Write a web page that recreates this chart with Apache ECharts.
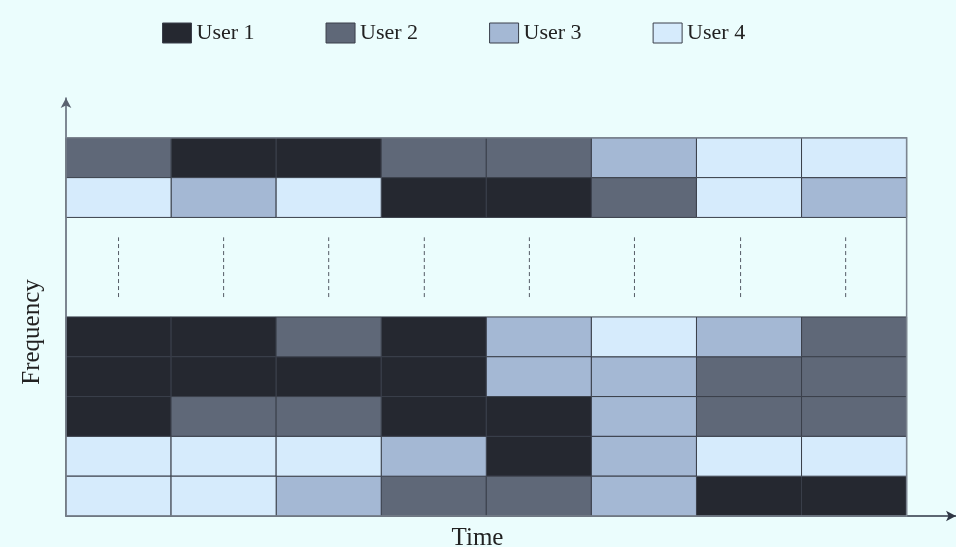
<!DOCTYPE html>
<html>
<head>
<meta charset="utf-8">
<script src="https://cdn.jsdelivr.net/npm/echarts@6/dist/echarts.min.js"></script>
<style>
html,body{margin:0;padding:0;background:#ebfdfd;overflow:hidden;}
#chart{width:956px;height:547px;}
</style>
</head>
<body>
<div id="chart"></div>
<script>
// Users and colors
var users = ['User 1', 'User 2', 'User 3', 'User 4'];
var userColors = ['#252830', '#5f6878', '#a4b8d4', '#d6ebfc'];

// Time slots (columns)
var timeSlots = [0, 1, 2, 3, 4, 5, 6, 7];

// Resource grid: user index (0-based) per time slot, rows from top to bottom
var topRow1 = [1, 0, 0, 1, 1, 2, 3, 3];
var topRow2 = [3, 2, 3, 0, 0, 1, 3, 2];
var lowRow1 = [0, 0, 1, 0, 2, 3, 2, 1];
var lowRow2 = [0, 0, 0, 0, 2, 2, 1, 1];
var lowRow3 = [0, 1, 1, 0, 0, 2, 1, 1];
var lowRow4 = [3, 3, 3, 2, 0, 2, 3, 3];
var lowRow5 = [3, 3, 2, 1, 1, 2, 0, 0];

// Frequency position (bottom edge, in row units) of each row
var rowsList = [topRow1, topRow2, lowRow1, lowRow2, lowRow3, lowRow4, lowRow5];
var rowBases = [8.5, 7.5, 4, 3, 2, 1, 0];

// Dashed markers in the gap between row groups
var dashX = [0.5, 1.5, 2.5, 3.41, 4.41, 5.41, 6.42, 7.42];
var dashRange = [5.5, 7.0];

var FONT = "'Liberation Serif', 'Times New Roman', serif";

var userData = users.map(function () { return []; });
rowsList.forEach(function (row, ri) {
  row.forEach(function (u, ci) {
    userData[u].push([timeSlots[ci], rowBases[ri]]);
  });
});

function cellRender(params, api) {
  var x = api.value(0), y = api.value(1);
  var p1 = api.coord([x, y + 1]);
  var p2 = api.coord([x + 1, y]);
  return {
    type: 'rect',
    shape: { x: p1[0], y: p1[1], width: p2[0] - p1[0], height: p2[1] - p1[1] },
    style: { fill: api.visual('color'), stroke: '#3a3f4a', lineWidth: 1 }
  };
}

var series = users.map(function (name, i) {
  return {
    name: name,
    type: 'custom',
    renderItem: cellRender,
    data: userData[i],
    itemStyle: { color: userColors[i] },
    encode: { x: 0, y: 1 },
    z: 2
  };
});

// outer frame
series.push({
  name: 'frame',
  type: 'custom',
  data: [[0, 0, 8, 9.5]],
  encode: { x: [0, 2], y: [1, 3] },
  z: 3,
  silent: true,
  renderItem: function (params, api) {
    var a = api.coord([api.value(0), api.value(3)]);
    var b = api.coord([api.value(2), api.value(1)]);
    return {
      type: 'rect',
      shape: { x: a[0], y: a[1], width: b[0] - a[0], height: b[1] - a[1] },
      style: { fill: null, stroke: '#7c8590', lineWidth: 1.5 }
    };
  }
});

// dashed markers
series.push({
  name: 'dots',
  type: 'custom',
  data: dashX.map(function (x) { return [x, dashRange[0], dashRange[1]]; }),
  encode: { x: 0, y: [1, 2] },
  z: 3,
  silent: true,
  renderItem: function (params, api) {
    var a = api.coord([api.value(0), api.value(1)]);
    var b = api.coord([api.value(0), api.value(2)]);
    return {
      type: 'line',
      shape: { x1: a[0], y1: a[1], x2: b[0], y2: b[1] },
      style: { stroke: '#555b66', lineWidth: 1, lineDash: [4, 3] }
    };
  }
});

var chart = echarts.init(document.getElementById('chart'), null, { width: 956, height: 547 });
chart.setOption({
  backgroundColor: '#ebfdfd',
  animation: false,
  legend: {
    top: 22,
    left: 162,
    padding: 0,
    itemWidth: 29,
    itemHeight: 20,
    itemGap: 71,
    selectedMode: false,
    textStyle: { fontFamily: FONT, fontSize: 22, color: '#222' },
    data: users.map(function (u, i) {
      return { name: u, icon: 'rect', itemStyle: { color: userColors[i], borderColor: '#3a3f4a', borderWidth: 1 } };
    })
  },
  grid: { left: 66, right: 0, top: 98, bottom: 31, containLabel: false, outerBoundsMode: 'none' },
  xAxis: {
    type: 'value',
    min: 0,
    max: 8.47,
    name: 'Time',
    nameLocation: 'middle',
    nameGap: 10,
    nameTextStyle: { fontFamily: FONT, fontSize: 25, color: '#222', padding: [0, 67, 0, 0] },
    axisLine: { show: true, lineStyle: { color: '#2f3645', width: 1.5 }, symbol: ['none', 'arrow'], symbolSize: [8, 10] },
    axisTick: { show: false },
    axisLabel: { show: false },
    splitLine: { show: false }
  },
  yAxis: {
    type: 'value',
    min: 0,
    max: 10.5,
    name: 'Frequency',
    nameLocation: 'middle',
    nameGap: 21,
    nameTextStyle: { fontFamily: FONT, fontSize: 25, color: '#222', padding: [0, 50, 0, 0] },
    axisLine: { show: true, lineStyle: { color: '#5a6270', width: 1.5 }, symbol: ['none', 'arrow'], symbolSize: [8, 10] },
    axisTick: { show: false },
    axisLabel: { show: false },
    splitLine: { show: false }
  },
  series: series
});
</script>
</body>
</html>
